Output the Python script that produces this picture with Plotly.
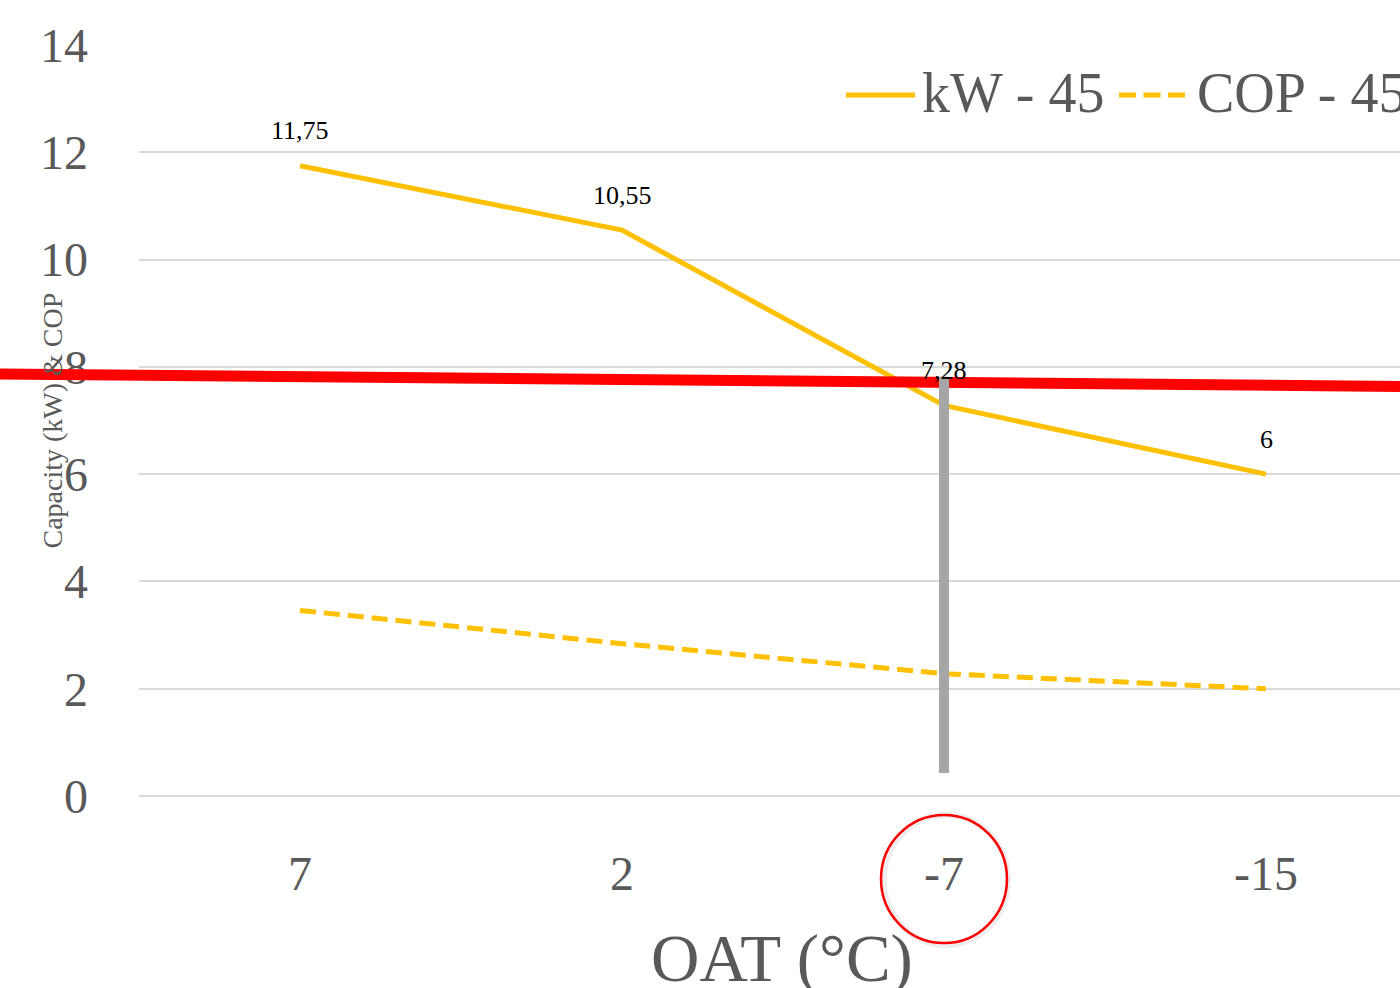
import plotly.graph_objects as go

# Outdoor air temperature categories and performance at 45 °C flow
oat_labels = ["7", "2", "-7", "-15"]
kw_45 = [11.75, 10.55, 7.28, 6.0]
cop_45 = [3.46, 2.84, 2.28, 2.0]
y_ticks = [0, 2, 4, 6, 8, 10, 12, 14]

W, H = 1400, 988
L, R, T, B = 139, 0, 45, 192
PW, PH = W - L - R, H - T - B
CAT_W = 322.0  # pixel width of one category slot

FONT = "Palatino Linotype, Book Antiqua, Palatino, Liberation Serif, serif"
GRAY_TXT = "#595959"
GOLD = "#FFC000"


def px(xpix):
    return (xpix - L) / PW


def py(ypix):
    return (H - B - ypix) / PH


xs = list(range(len(oat_labels)))

fig = go.Figure()
fig.add_trace(go.Scatter(x=xs, y=kw_45, mode="lines", name="kW - 45",
                         line=dict(color=GOLD, width=5), showlegend=False))
fig.add_trace(go.Scatter(x=xs, y=cop_45, mode="lines", name="COP - 45",
                         line=dict(color=GOLD, width=5, dash="16px,8px"),
                         showlegend=False))

annotations = []
# value labels above the capacity line
for i, v in enumerate(kw_45):
    txt = (f"{v:.2f}".rstrip("0").rstrip(".")).replace(".", ",")
    annotations.append(dict(x=i, y=v, xref="x", yref="y", text=txt,
                            showarrow=False, yshift=35,
                            xanchor="center", yanchor="middle",
                            font=dict(family=FONT, size=26, color="#000000")))

# axis titles
annotations.append(dict(x=px(782), y=py(958), xref="paper", yref="paper",
                        xanchor="center", yanchor="middle",
                        text="OAT (°C)", showarrow=False,
                        font=dict(family=FONT, size=67, color=GRAY_TXT)))
annotations.append(dict(x=px(52), y=0.5, xref="paper", yref="paper",
                        xanchor="center", yanchor="middle",
                        text="Capacity (kW) & COP", textangle=-90,
                        showarrow=False,
                        font=dict(family=FONT, size=28, color=GRAY_TXT)))

# legend entries
annotations.append(dict(x=px(920), y=py(93), xref="paper", yref="paper",
                        xanchor="left", yanchor="middle", text="kW - 45",
                        showarrow=False,
                        font=dict(family=FONT, size=56, color=GRAY_TXT)))
annotations.append(dict(x=px(1195), y=py(93), xref="paper", yref="paper",
                        xanchor="left", yanchor="middle", text="COP - 45",
                        showarrow=False,
                        font=dict(family=FONT, size=56, color=GRAY_TXT)))

shapes = [
    # legend samples
    dict(type="line", xref="paper", yref="paper", x0=px(846), x1=px(915),
         y0=py(95), y1=py(95), line=dict(color=GOLD, width=5)),
    dict(type="line", xref="paper", yref="paper", x0=px(1119), x1=px(1185),
         y0=py(95), y1=py(95), line=dict(color=GOLD, width=5, dash="17px,7.5px")),
    # red reference line across the chart
    dict(type="line", xref="paper", yref="paper", x0=px(0), x1=px(1400),
         y0=py(374), y1=py(386.5), line=dict(color="#FF0000", width=11)),
    # vertical marker at -7 °C
    dict(type="line", xref="x", yref="paper", x0=2, x1=2,
         y0=py(773), y1=py(377), line=dict(color="#A6A6A6", width=10)),
    # soft shadow + circle around the -7 label
    dict(type="circle", xref="x", yref="paper",
         x0=2 - 62 / CAT_W + 2 / CAT_W, x1=2 + 62 / CAT_W + 2 / CAT_W,
         y0=py(945), y1=py(815), line=dict(color="rgba(0,0,0,0.07)", width=6)),
    dict(type="circle", xref="x", yref="paper",
         x0=2 - 63 / CAT_W, x1=2 + 63 / CAT_W,
         y0=py(943), y1=py(815), line=dict(color="#FF0000", width=2.5)),
]

fig.update_layout(
    width=W, height=H,
    margin=dict(l=L, r=R, t=T, b=B, pad=0),
    paper_bgcolor="white", plot_bgcolor="white",
    showlegend=False,
    annotations=annotations, shapes=shapes,
    xaxis=dict(range=[-0.5, -0.5 + PW / CAT_W], tickvals=xs, ticktext=oat_labels,
               showgrid=False, zeroline=False, showline=False, ticks="",
               ticklabelstandoff=45,
               tickfont=dict(family=FONT, size=48, color=GRAY_TXT)),
    yaxis=dict(range=[0, 14], tickvals=y_ticks, showgrid=True,
               gridcolor="#D9D9D9", gridwidth=2, zeroline=True,
               zerolinecolor="#D9D9D9", zerolinewidth=2, showline=False,
               ticks="", ticklabelstandoff=50,
               tickfont=dict(family=FONT, size=48, color=GRAY_TXT)),
)

fig.write_html("out.html")
